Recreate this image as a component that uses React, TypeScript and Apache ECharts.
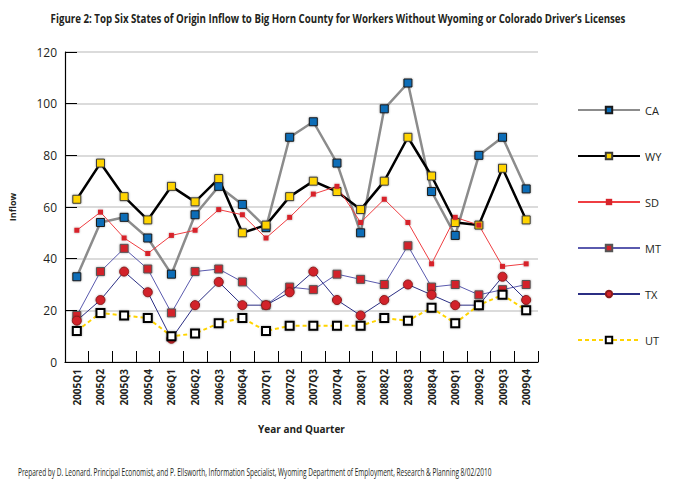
import React, { useEffect, useRef } from "react";
import * as echarts from "echarts";

const categories = [
  "2005Q1", "2005Q2", "2005Q3", "2005Q4",
  "2006Q1", "2006Q2", "2006Q3", "2006Q4",
  "2007Q1", "2007Q2", "2007Q3", "2007Q4",
  "2008Q1", "2008Q2", "2008Q3", "2008Q4",
  "2009Q1", "2009Q2", "2009Q3", "2009Q4",
];

const CA = [33, 54, 56, 48, 34, 57, 68, 61, 52, 87, 93, 77, 50, 98, 108, 66, 49, 80, 87, 67];
const WY = [63, 77, 64, 55, 68, 62, 71, 50, 53, 64, 70, 66, 59, 70, 87, 72, 54, 53, 75, 55];
const SD = [51, 58, 48, 42, 49, 51, 59, 57, 48, 56, 65, 68, 54, 63, 54, 38, 56, 53, 37, 38];
const MT = [18, 35, 44, 36, 19, 35, 36, 31, 22, 29, 28, 34, 32, 30, 45, 29, 30, 26, 28, 30];
const TX = [16, 24, 35, 27, 9, 22, 31, 22, 22, 27, 35, 24, 18, 24, 30, 26, 22, 22, 33, 24];
const UT = [12, 19, 18, 17, 10, 11, 15, 17, 12, 14, 14, 14, 14, 17, 16, 21, 15, 22, 26, 20];

const titleText =
  "Figure 2: Top Six States of Origin Inflow to Big Horn County for Workers Without Wyoming or Colorado Driver\u2019s Licenses";
const footerText =
  "Prepared by D. Leonard. Principal Economist, and P. Ellsworth, Information Specialist, Wyoming Department of Employment, Research & Planning 8/02/2010";

const FONT = "'Open Sans', sans-serif";
const TXT = "#231f20";

export default function App() {
  const ref = useRef<HTMLDivElement>(null);
  useEffect(() => {
    if (!ref.current) return;
    const chart = echarts.init(ref.current, null, { renderer: "svg" });
    const shadow = { shadowBlur: 2, shadowColor: "rgba(0,0,0,0.35)" };
    const mk = (
      name: string,
      data: number[],
      lineColor: string,
      lineWidth: number,
      symbol: string,
      size: number,
      fill: string,
      border: string,
      borderWidth: number,
      dashed = false
    ) => ({
      name,
      type: "line",
      data,
      symbol,
      symbolSize: size,
      showAllSymbol: true,
      lineStyle: { color: lineColor, width: lineWidth, type: dashed ? [4, 3] : "solid" },
      itemStyle: { color: fill, borderColor: border, borderWidth, ...shadow },
      emphasis: { disabled: true },
    });
    chart.setOption({
      animation: false,
      backgroundColor: "#ffffff",
      textStyle: { fontFamily: FONT },
      graphic: [
        {
          type: "text",
          x: 338,
          y: 18,
          scaleX: 0.81,
          style: {
            text: titleText,
            fontFamily: FONT,
            fontWeight: "bold",
            fontSize: 12,
            fill: TXT,
            textAlign: "center",
            textVerticalAlign: "middle",
          },
        },
        {
          type: "text",
          x: 18,
          y: 472,
          scaleX: 0.652,
          style: {
            text: footerText,
            fontFamily: FONT,
            fontWeight: "normal",
            fontSize: 10,
            fill: TXT,
            textAlign: "left",
            textVerticalAlign: "middle",
          },
        },
      ],
      legend: {
        orient: "vertical",
        left: 572,
        top: 97,
        itemWidth: 62,
        itemHeight: 8,
        itemGap: 30,
        textStyle: { fontFamily: FONT, fontSize: 11, color: TXT, lineHeight: 16 },
        data: ["CA", "WY", "SD", "MT", "TX", "UT"],
      },
      grid: { left: 55, right: 138, top: 52, bottom: 123, containLabel: false },
      xAxis: {
        type: "category",
        data: categories,
        boundaryGap: true,
        name: "Year and Quarter",
        nameLocation: "middle",
        nameGap: 62,
        nameTextStyle: { fontFamily: FONT, fontWeight: "bold", fontSize: 10, color: TXT },
        axisLine: { lineStyle: { color: "#000", width: 1.2 } },
        axisTick: { show: true, inside: true, length: 11, interval: 0, lineStyle: { color: "#000" } },
        axisLabel: {
          rotate: 90,
          interval: 0,
          margin: 7,
          fontFamily: FONT,
          fontWeight: "bold",
          fontSize: 10,
          color: TXT,
        },
        splitLine: { show: false },
      },
      yAxis: {
        type: "value",
        min: 0,
        max: 120,
        interval: 20,
        name: "Inflow",
        nameLocation: "middle",
        nameGap: 48,
        nameRotate: 90,
        nameTextStyle: { fontFamily: FONT, fontWeight: "bold", fontSize: 9, color: TXT },
        axisLine: { show: true, lineStyle: { color: "#000", width: 1.2 } },
        axisTick: { show: true, inside: true, length: 12, lineStyle: { color: "#000" } },
        axisLabel: { fontFamily: FONT, fontSize: 12, color: TXT, margin: 8 },
        splitLine: { show: true, lineStyle: { color: "#cfcfcf", width: 1.5 } },
      },
      series: [
        mk("CA", CA, "#8c8c8c", 2.5, "rect", 8, "#0b6db7", "#1a1a1a", 1),
        mk("WY", WY, "#000000", 2.5, "rect", 8, "#ffd400", "#3a3a3a", 1),
        mk("SD", SD, "#ef3e42", 1, "rect", 5, "#d7242b", "#d7242b", 0),
        mk("MT", MT, "#5a5aae", 1, "rect", 8, "#d2232a", "#555555", 1),
        mk("TX", TX, "#2b2e83", 1, "circle", 9, "#d2232a", "#8a1a1a", 1),
        mk("UT", UT, "#ffd400", 2, "rect", 8, "#ffffff", "#000000", 2, true),
      ],
    });
    return () => chart.dispose();
  }, []);
  return (
    <div
      ref={ref}
      style={{ position: "fixed", left: 0, top: 0, width: 676, height: 485 }}
    />
  );
}
